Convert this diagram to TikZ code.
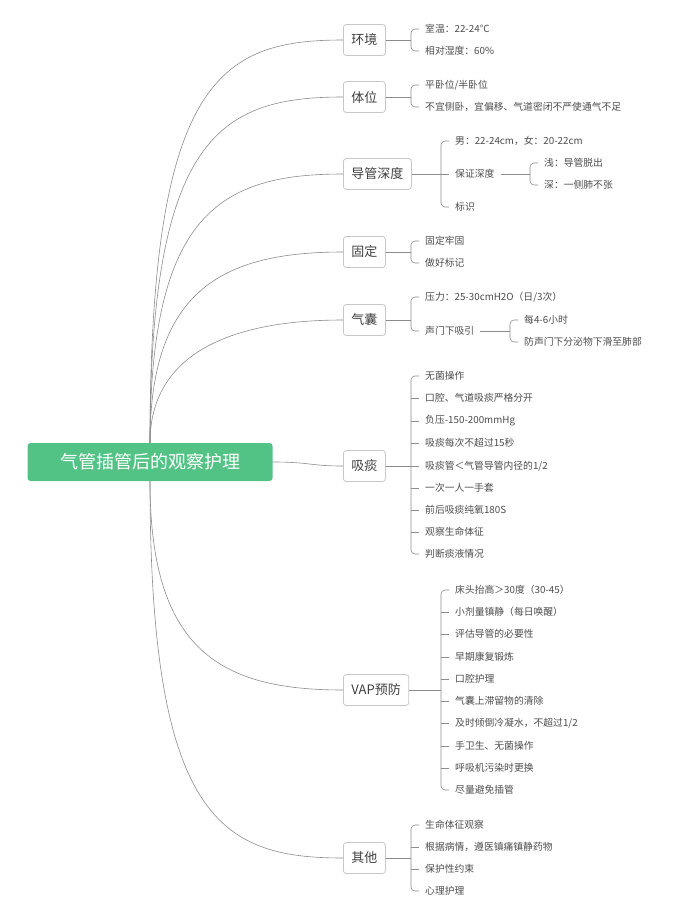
\documentclass[tikz,border=0pt]{standalone}
\usepackage{fontspec}
\setmainfont{Noto Sans CJK SC}
\definecolor{rootgreen}{HTML}{52C285}
\tikzset{
  ln/.style={draw=black!45,line width=0.6pt},
  cat/.style={draw=black!22,rounded corners=3pt,line width=0.8pt,fill=white,text=black!75,font=\fontsize{13}{15}\selectfont,inner xsep=8pt,minimum height=31pt,anchor=west},
  leaf/.style={anchor=west,inner xsep=6pt,inner ysep=1pt,text=black!70,font=\fontsize{9.8}{11}\selectfont},
  rootbox/.style={fill=rootgreen,text=white,rounded corners=3pt,minimum width=245pt,minimum height=38pt,font=\fontsize{18}{21}\selectfont}
}
% #1 name prefix, #2 parent anchor, #3 ycat, #4 bracket x, #5 text node x, #6 n, #7 list
\newcommand\mybr[7]{%
  \draw[ln] (#2) -- (#4,#3);
  \foreach \yy/\tx [count=\i] in {#7} {%
    \node[leaf] (#1-\i) at (#5,\yy) {\tx};
    \ifnum\i=1 \draw[ln,rounded corners=4pt] (#4,#3) |- (#1-\i.west);
    \else\ifnum\i=#6 \draw[ln,rounded corners=4pt] (#4,#3) |- (#1-\i.west);
    \else \draw[ln] (#4,\yy) -- (#1-\i.west); \fi\fi
  }}
\begin{document}
\begin{tikzpicture}[x=1pt,y=-1pt]
\useasboundingbox (0,0) rectangle (700,919);
\node[rootbox] (root) at (150,462) {气管插管后的观察护理};
\node[cat] (c1) at (343,40) {环境};
\node[cat] (c2) at (343,97) {体位};
\node[cat] (c3) at (343,174) {导管深度};
\node[cat] (c4) at (343,252) {固定};
\node[cat] (c5) at (343,320) {气囊};
\node[cat] (c6) at (343,466) {吸痰};
\node[cat] (c7) at (343,690) {VAP预防};
\node[cat] (c8) at (343,858) {其他};
\foreach \c/\yc in {c1/40,c2/97,c3/174,c4/252,c5/320}
  \draw[ln] (root.north) .. controls (150,\yc+40) and (220,\yc) .. (\c.west);
\foreach \c/\yc in {c7/690,c8/858}
  \draw[ln] (root.south) .. controls (150,\yc-40) and (220,\yc) .. (\c.west);
\draw[ln] (root.east) .. controls (310,462) and (310,466) .. (c6.west);
\mybr{a}{c1.east}{40}{411}{419}{2}{29/{室温：22-24℃},51/{相对湿度：60\%}}
\mybr{b}{c2.east}{97}{411}{419}{2}{85/{平卧位/半卧位},107/{不宜侧卧，宜偏移、气道密闭不严使通气不足}}
\mybr{d}{c3.east}{174}{441}{449}{3}{141/{男：22-24cm，女：20-22cm},174/{保证深度},207/{标识}}
\mybr{e}{d-2.east}{174}{530}{538}{2}{163/{浅：导管脱出},185/{深：一侧肺不张}}
\mybr{f}{c4.east}{252}{411}{419}{2}{241/{固定牢固},263/{做好标记}}
\mybr{g}{c5.east}{320}{411}{419}{2}{297/{压力：25-30cmH2O（日/3次）},331/{声门下吸引}}
\mybr{h}{g-2.east}{331}{510}{518}{2}{320/{每4-6小时},342/{防声门下分泌物下滑至肺部}}
\mybr{k}{c6.east}{466}{411}{419}{9}{376/{无菌操作},398/{口腔、气道吸痰严格分开},421/{负压-150-200mmHg},443/{吸痰每次不超过15秒},466/{吸痰管＜气管导管内径的1/2},488/{一次一人一手套},510/{前后吸痰纯氧180S},532/{观察生命体征},554/{判断痰液情况}}
\mybr{m}{c7.east}{690}{441}{449}{10}{590/{床头抬高＞30度（30-45）},612/{小剂量镇静（每日唤醒）},634/{评估导管的必要性},657/{早期康复锻炼},679/{口腔护理},701/{气囊上滞留物的清除},723/{及时倾倒冷凝水，不超过1/2},746/{手卫生、无菌操作},768/{呼吸机污染时更换},790/{尽量避免插管}}
\mybr{n}{c8.east}{858}{411}{419}{4}{825/{生命体征观察},847/{根据病情，遵医镇痛镇静药物},869/{保护性约束},891/{心理护理}}
\end{tikzpicture}
\end{document}
